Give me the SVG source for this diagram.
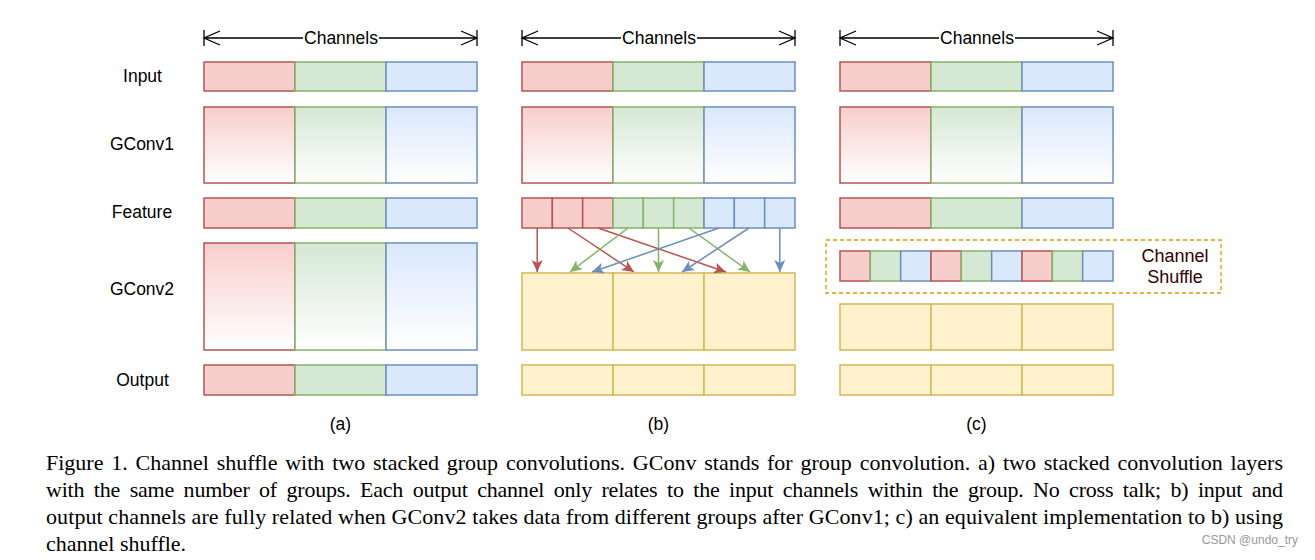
<svg xmlns="http://www.w3.org/2000/svg" width="1315" height="560" viewBox="0 0 1315 560">
<style>
.lbl{font-family:"Liberation Sans",Arial,sans-serif;font-size:17.5px;fill:#000;text-anchor:middle;dominant-baseline:central}
.cap{font-family:"Liberation Serif","Times New Roman",serif;font-size:22px;fill:#000}
.r{fill:#f8cecc;stroke:#b85450;stroke-width:1.5}
.g{fill:#d5e8d4;stroke:#82b366;stroke-width:1.5}
.b{fill:#dae8fc;stroke:#6c8ebf;stroke-width:1.5}
.y{fill:#fff2cc;stroke:#d6b656;stroke-width:1.5}
.rg{fill:url(#gr);stroke:#b85450;stroke-width:1.5}
.gg{fill:url(#gg);stroke:#82b366;stroke-width:1.5}
.bg{fill:url(#gb);stroke:#6c8ebf;stroke-width:1.5}
.dim{stroke:#000;stroke-width:1.3;fill:none}
</style>
<defs>
<linearGradient id="gr" x1="0" y1="0" x2="0" y2="1"><stop offset="0" stop-color="#f8cecc"/><stop offset="1" stop-color="#ffffff"/></linearGradient>
<linearGradient id="gg" x1="0" y1="0" x2="0" y2="1"><stop offset="0" stop-color="#d5e8d4"/><stop offset="1" stop-color="#ffffff"/></linearGradient>
<linearGradient id="gb" x1="0" y1="0" x2="0" y2="1"><stop offset="0" stop-color="#dae8fc"/><stop offset="1" stop-color="#ffffff"/></linearGradient>
<marker id="ar" viewBox="0 0 12 12" refX="12" refY="6" markerWidth="12" markerHeight="12" markerUnits="userSpaceOnUse" orient="auto"><path d="M0,0.5 L12,6 L0,11.5 L3,6 Z" fill="#b85450"/></marker>
<marker id="ag" viewBox="0 0 12 12" refX="12" refY="6" markerWidth="12" markerHeight="12" markerUnits="userSpaceOnUse" orient="auto"><path d="M0,0.5 L12,6 L0,11.5 L3,6 Z" fill="#82b366"/></marker>
<marker id="ab" viewBox="0 0 12 12" refX="12" refY="6" markerWidth="12" markerHeight="12" markerUnits="userSpaceOnUse" orient="auto"><path d="M0,0.5 L12,6 L0,11.5 L3,6 Z" fill="#6c8ebf"/></marker>
<g id="dimension">
<path class="dim" d="M0,30 V46 M0,38 H273 M273,30 V46 M16,31 L0,38 L16,45 M257,31 L273,38 L257,45"/>
</g>
</defs>

<g id="row-labels">
<text class="lbl" x="142.5" y="76">Input</text>
<text class="lbl" x="142" y="144">GConv1</text>
<text class="lbl" x="142" y="212">Feature</text>
<text class="lbl" x="142" y="289">GConv2</text>
<text class="lbl" x="142.5" y="380">Output</text>
</g>

<g id="channels-a">
<use href="#dimension" x="204" y="0"/>
<rect x="303" y="28" width="76" height="20" fill="#fff"/>
<text class="lbl" x="341" y="38">Channels</text>
</g>
<g id="channels-b">
<use href="#dimension" x="522" y="0"/>
<rect x="621" y="28" width="76" height="20" fill="#fff"/>
<text class="lbl" x="659" y="38">Channels</text>
</g>
<g id="channels-c">
<use href="#dimension" x="840" y="0"/>
<rect x="939" y="28" width="76" height="20" fill="#fff"/>
<text class="lbl" x="977" y="38">Channels</text>
</g>

<!-- column a -->
<g id="a-input">
<rect class="r" x="204" y="62" width="91" height="29"/><rect class="g" x="295" y="62" width="91" height="29"/><rect class="b" x="386" y="62" width="91" height="29"/>
</g>
<g id="a-gconv1">
<rect class="rg" x="204" y="107" width="91" height="76"/><rect class="gg" x="295" y="107" width="91" height="76"/><rect class="bg" x="386" y="107" width="91" height="76"/>
</g>
<g id="a-feature">
<rect class="r" x="204" y="198" width="91" height="30"/><rect class="g" x="295" y="198" width="91" height="30"/><rect class="b" x="386" y="198" width="91" height="30"/>
</g>
<g id="a-gconv2">
<rect class="rg" x="204" y="243" width="91" height="107"/><rect class="gg" x="295" y="243" width="91" height="107"/><rect class="bg" x="386" y="243" width="91" height="107"/>
</g>
<g id="a-output">
<rect class="r" x="204" y="365" width="91" height="30"/><rect class="g" x="295" y="365" width="91" height="30"/><rect class="b" x="386" y="365" width="91" height="30"/>
</g>
<text class="lbl" x="340.5" y="424">(a)</text>

<!-- column b -->
<g id="b-input">
<rect class="r" x="522" y="62" width="91" height="29"/><rect class="g" x="613" y="62" width="91" height="29"/><rect class="b" x="704" y="62" width="91" height="29"/>
</g>
<g id="b-gconv1">
<rect class="rg" x="522" y="107" width="91" height="76"/><rect class="gg" x="613" y="107" width="91" height="76"/><rect class="bg" x="704" y="107" width="91" height="76"/>
</g>
<g id="b-feature">
<rect class="r" x="522" y="198" width="30.33" height="30"/><rect class="r" x="552.33" y="198" width="30.33" height="30"/><rect class="r" x="582.67" y="198" width="30.33" height="30"/>
<rect class="g" x="613" y="198" width="30.33" height="30"/><rect class="g" x="643.33" y="198" width="30.33" height="30"/><rect class="g" x="673.67" y="198" width="30.33" height="30"/>
<rect class="b" x="704" y="198" width="30.33" height="30"/><rect class="b" x="734.33" y="198" width="30.33" height="30"/><rect class="b" x="764.67" y="198" width="30.33" height="30"/>
</g>
<g id="b-gconv2">
<rect class="y" x="522" y="273" width="91" height="77"/><rect class="y" x="613" y="273" width="91" height="77"/><rect class="y" x="704" y="273" width="91" height="77"/>
</g>
<g id="b-output">
<rect class="y" x="522" y="365" width="91" height="30"/><rect class="y" x="613" y="365" width="91" height="30"/><rect class="y" x="704" y="365" width="91" height="30"/>
</g>
<g id="connectors" stroke-width="1.5" fill="none">
<line x1="537.2" y1="228" x2="537.2" y2="272" stroke="#b85450" marker-end="url(#ar)"/>
<line x1="568" y1="228" x2="634" y2="272" stroke="#b85450" marker-end="url(#ar)"/>
<line x1="598" y1="228" x2="726" y2="272" stroke="#b85450" marker-end="url(#ar)"/>
<line x1="628" y1="228" x2="570" y2="272" stroke="#82b366" marker-end="url(#ag)"/>
<line x1="658.5" y1="228" x2="658.5" y2="272" stroke="#82b366" marker-end="url(#ag)"/>
<line x1="689" y1="228" x2="750" y2="272" stroke="#82b366" marker-end="url(#ag)"/>
<line x1="719" y1="228" x2="592" y2="272" stroke="#6c8ebf" marker-end="url(#ab)"/>
<line x1="749" y1="228" x2="682" y2="272" stroke="#6c8ebf" marker-end="url(#ab)"/>
<line x1="779.8" y1="228" x2="779.8" y2="272" stroke="#6c8ebf" marker-end="url(#ab)"/>
</g>
<text class="lbl" x="658.5" y="424">(b)</text>

<!-- column c -->
<g id="c-input">
<rect class="r" x="840" y="62" width="91" height="29"/><rect class="g" x="931" y="62" width="91" height="29"/><rect class="b" x="1022" y="62" width="91" height="29"/>
</g>
<g id="c-gconv1">
<rect class="rg" x="840" y="107" width="91" height="76"/><rect class="gg" x="931" y="107" width="91" height="76"/><rect class="bg" x="1022" y="107" width="91" height="76"/>
</g>
<g id="c-feature">
<rect class="r" x="840" y="198" width="91" height="30"/><rect class="g" x="931" y="198" width="91" height="30"/><rect class="b" x="1022" y="198" width="91" height="30"/>
</g>
<g id="c-shuffle">
<rect x="826" y="240" width="395" height="53" fill="none" stroke="#d79b00" stroke-width="1.3" stroke-dasharray="4 3"/>
<rect class="r" x="840" y="251" width="30.33" height="30"/><rect class="g" x="870.33" y="251" width="30.33" height="30"/><rect class="b" x="900.67" y="251" width="30.33" height="30"/>
<rect class="r" x="931" y="251" width="30.33" height="30"/><rect class="g" x="961.33" y="251" width="30.33" height="30"/><rect class="b" x="991.67" y="251" width="30.33" height="30"/>
<rect class="r" x="1022" y="251" width="30.33" height="30"/><rect class="g" x="1052.33" y="251" width="30.33" height="30"/><rect class="b" x="1082.67" y="251" width="30.33" height="30"/>
<text class="lbl" x="1175" y="256" style="fill:#330000;font-size:18px">Channel</text>
<text class="lbl" x="1175" y="277" style="fill:#330000;font-size:18px">Shuffle</text>
</g>
<g id="c-gconv2">
<rect class="y" x="840" y="304" width="91" height="46"/><rect class="y" x="931" y="304" width="91" height="46"/><rect class="y" x="1022" y="304" width="91" height="46"/>
</g>
<g id="c-output">
<rect class="y" x="840" y="365" width="91" height="30"/><rect class="y" x="931" y="365" width="91" height="30"/><rect class="y" x="1022" y="365" width="91" height="30"/>
</g>
<text class="lbl" x="976.5" y="424">(c)</text>

<g id="caption">
<text class="cap" x="46" y="470" word-spacing="2.3" textLength="1237" lengthAdjust="spacing">Figure 1. Channel shuffle with two stacked group convolutions. GConv stands for group convolution. a) two stacked convolution layers</text>
<text class="cap" x="46" y="497" word-spacing="4.3" textLength="1237" lengthAdjust="spacing">with the same number of groups. Each output channel only relates to the input channels within the group. No cross talk; b) input and</text>
<text class="cap" x="46" y="524" word-spacing="0" textLength="1237" lengthAdjust="spacing">output channels are fully related when GConv2 takes data from different groups after GConv1; c) an equivalent implementation to b) using</text>
<text class="cap" x="46" y="551">channel shuffle.</text>
</g>
<text x="1298" y="544" text-anchor="end" style="font-family:'Liberation Sans',Arial,sans-serif;font-size:12px;fill:#999">CSDN @undo_try</text>
</svg>
